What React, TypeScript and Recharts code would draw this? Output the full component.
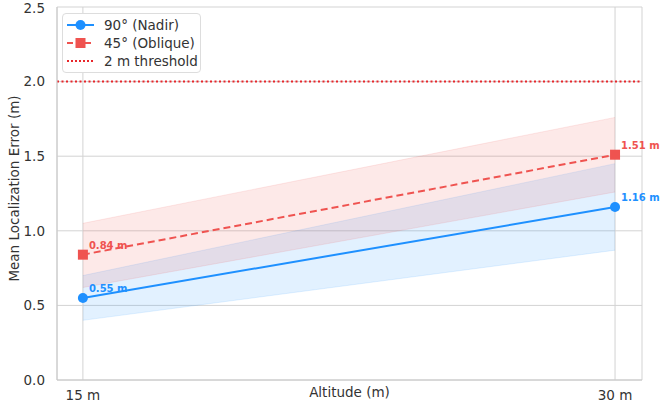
import {
  Area,
  CartesianGrid,
  ComposedChart,
  Line,
  ReferenceDot,
  ReferenceLine,
  XAxis,
  YAxis,
} from 'recharts'

const altitudes = [15, 30]
const nadirMean = [0.55, 1.16]
const nadirLow = [0.4, 0.87]
const nadirHigh = [0.7, 1.45]
const obliqueMean = [0.84, 1.51]
const obliqueLow = [0.62, 1.26]
const obliqueHigh = [1.05, 1.76]
const yTicks = [0, 0.5, 1, 1.5, 2, 2.5]
const threshold = 2.0

const BLUE = '#1e90ff'
const RED = '#ef5350'
const THRESH = '#e8262b'
const FONT = '"DejaVu Sans", sans-serif'

const data = altitudes.map((alt, i) => ({
  alt,
  nadir: nadirMean[i],
  nadirBand: [nadirLow[i], nadirHigh[i]],
  oblique: obliqueMean[i],
  obliqueBand: [obliqueLow[i], obliqueHigh[i]],
}))

// value annotation drawn next to each marker, outside the plot clip
const valueLabel = (color: string, value: number) => (props: any) => {
  const { viewBox } = props
  const x = viewBox.x + viewBox.width / 2
  const y = viewBox.y + viewBox.height / 2
  return (
    <text x={x + 6} y={y - 6} fill={color} fontSize={10} fontWeight="bold" fontFamily={FONT}>
      {`${value.toFixed(2)} m`}
    </text>
  )
}

const SquareDot = (props: any) => {
  const { cx, cy } = props
  return <rect x={cx - 5} y={cy - 5} width={10} height={10} fill={RED} />
}

const yAxisTitle = (props: any) => {
  const { viewBox } = props
  const cx = 14
  const cy = viewBox.y + viewBox.height / 2 - 5
  return (
    <text
      x={cx}
      y={cy}
      transform={`rotate(-90 ${cx} ${cy})`}
      textAnchor="middle"
      dominantBaseline="central"
      fontSize={13.5}
      fill="#333"
      fontFamily={FONT}
    >
      Mean Localization Error (m)
    </text>
  )
}

function LegendBox() {
  const rows = [
    { label: '90° (Nadir)', kind: 'nadir' },
    { label: '45° (Oblique)', kind: 'oblique' },
    { label: '2 m threshold', kind: 'threshold' },
  ]
  return (
    <div
      style={{
        position: 'absolute',
        left: 62,
        top: 13,
        width: 134,
        background: '#fff',
        border: '1px solid #dddddd',
        borderRadius: 4,
        padding: '2px 0 2px 3px',
        fontFamily: FONT,
        fontSize: 13.5,
        color: '#333',
        lineHeight: '18px',
      }}
    >
      {rows.map((r) => (
        <div key={r.kind} style={{ display: 'flex', alignItems: 'center' }}>
          <svg width={29} height={18} style={{ marginRight: 9 }}>
            {r.kind === 'nadir' && (
              <>
                <line x1={1} y1={9} x2={28} y2={9} stroke={BLUE} strokeWidth={2} />
                <circle cx={14.5} cy={9} r={5} fill={BLUE} />
              </>
            )}
            {r.kind === 'oblique' && (
              <>
                <line x1={1} y1={9} x2={28} y2={9} stroke={RED} strokeWidth={2} strokeDasharray="6 3" />
                <rect x={9.5} y={4} width={10} height={10} fill={RED} />
              </>
            )}
            {r.kind === 'threshold' && (
              <line x1={1} y1={9} x2={28} y2={9} stroke={THRESH} strokeWidth={2} strokeDasharray="2 2" />
            )}
          </svg>
          <span>{r.label}</span>
        </div>
      ))}
    </div>
  )
}

export default function App() {
  return (
    <div style={{ position: 'absolute', left: 0, top: 0, width: 661, height: 403, background: '#fff' }}>
      <ComposedChart
        width={661}
        height={403}
        data={data}
        margin={{ top: 7, right: 19, bottom: 0, left: 0 }}
        style={{ fontFamily: FONT, overflow: 'visible' }}
      >
        <CartesianGrid stroke="#d3d3d3" strokeWidth={1} />
        <XAxis
          dataKey="alt"
          type="number"
          domain={[14.27, 30.76]}
          ticks={altitudes}
          tickFormatter={(v) => `${v} m`}
          tick={{ fontSize: 13.5, fill: '#333' }}
          tickLine={false}
          tickSize={0}
          tickMargin={10}
          axisLine={{ stroke: '#c8c8c8' }}
          height={23}
          label={{
            value: 'Altitude (m)',
            position: 'insideBottom',
            offset: 6,
            style: { fontSize: 13.5, fill: '#333' },
          }}
        />
        <YAxis
          domain={[0, 2.5]}
          ticks={yTicks}
          tickFormatter={(v) => Number(v).toFixed(1)}
          tick={{ fontSize: 13.5, fill: '#333' }}
          tickLine={false}
          tickSize={0}
          tickMargin={12}
          axisLine={{ stroke: '#c8c8c8' }}
          width={57}
          label={yAxisTitle}
        />
        <Area
          dataKey="nadirBand"
          type="linear"
          fill={BLUE}
          fillOpacity={0.13}
          stroke={BLUE}
          strokeOpacity={0.12}
          isAnimationActive={false}
        />
        <Area
          dataKey="obliqueBand"
          type="linear"
          fill={RED}
          fillOpacity={0.13}
          stroke={RED}
          strokeOpacity={0.12}
          isAnimationActive={false}
        />
        <ReferenceLine y={threshold} stroke={THRESH} strokeWidth={2} strokeDasharray="2 2.5" />
        <Line
          dataKey="nadir"
          type="linear"
          stroke={BLUE}
          strokeWidth={2}
          dot={{ r: 5, fill: BLUE, stroke: BLUE, strokeWidth: 0 }}
          activeDot={false}
          isAnimationActive={false}
        />
        <Line
          dataKey="oblique"
          type="linear"
          stroke={RED}
          strokeWidth={2}
          strokeDasharray="7 4"
          dot={<SquareDot />}
          activeDot={false}
          isAnimationActive={false}
        />
        {altitudes.map((alt, i) => (
          <ReferenceDot
            key={`n${alt}`}
            x={alt}
            y={nadirMean[i]}
            r={0}
            fill="none"
            stroke="none"
            ifOverflow="visible"
            label={valueLabel(BLUE, nadirMean[i])}
          />
        ))}
        {altitudes.map((alt, i) => (
          <ReferenceDot
            key={`o${alt}`}
            x={alt}
            y={obliqueMean[i]}
            r={0}
            fill="none"
            stroke="none"
            ifOverflow="visible"
            label={valueLabel(RED, obliqueMean[i])}
          />
        ))}
      </ComposedChart>
      <LegendBox />
    </div>
  )
}
